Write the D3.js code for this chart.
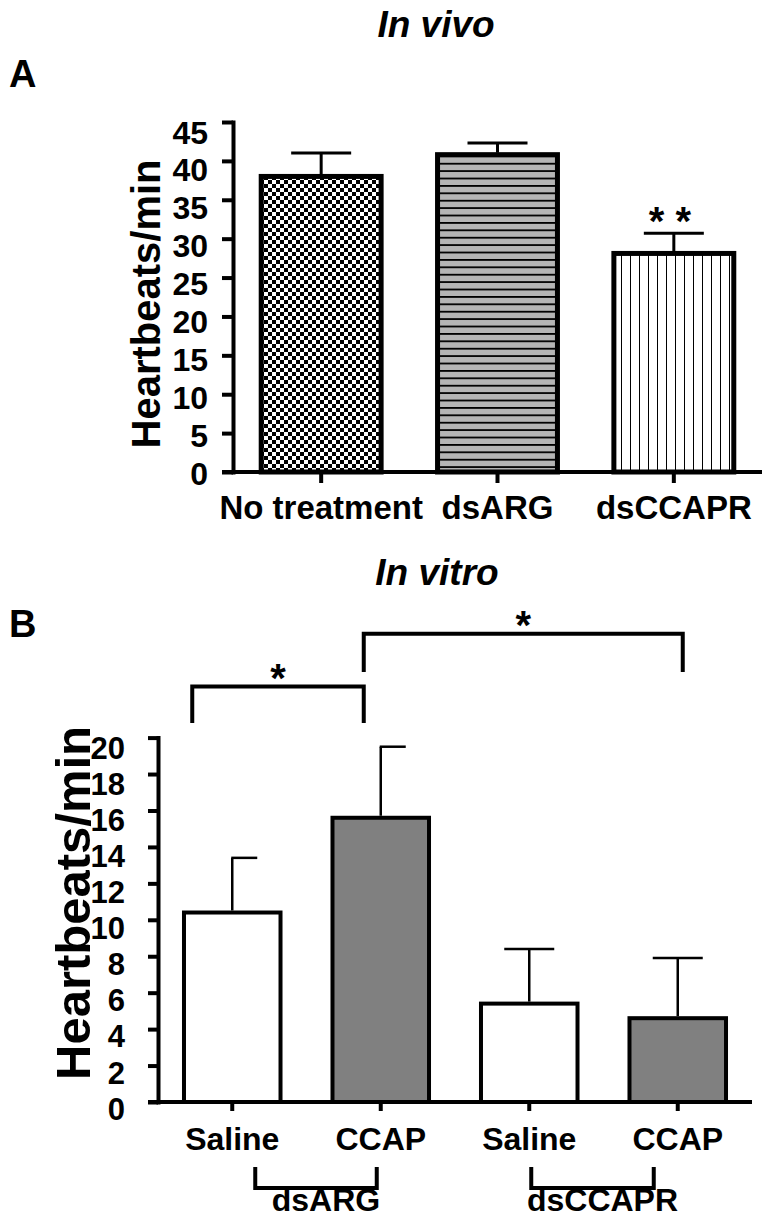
<!DOCTYPE html>
<html>
<head>
<meta charset="utf-8">
<script src="https://cdn.jsdelivr.net/npm/d3@7"></script>
<style>
  body { margin: 0; background: #fff; }
  text { font-family: "Liberation Sans", Arial, sans-serif; font-weight: bold; fill: #000; }
</style>
</head>
<body>
<script>
// ---- data, panel A (in vivo)
var vivoGroups = ["No treatment", "dsARG", "dsCCAPR"];
var vivoMeans = [38.0, 40.8, 28.1];
var vivoErrors = [3.0, 1.5, 2.6];
var vivoTicks = [0, 5, 10, 15, 20, 25, 30, 35, 40, 45];

// ---- data, panel B (in vitro)
var vitroKeys = ["dsARG-Saline", "dsARG-CCAP", "dsCCAPR-Saline", "dsCCAPR-CCAP"];
var vitroLabels = ["Saline", "CCAP", "Saline", "CCAP"];
var vitroMeans = [10.4, 15.6, 5.4, 4.6];
var vitroErrors = [3.0, 3.9, 3.0, 3.3];
var vitroTicks = [0, 2, 4, 6, 8, 10, 12, 14, 16, 18, 20];
var vitroTreatments = ["dsARG", "dsCCAPR"];

var svg = d3.select("body").append("svg")
    .attr("width", 771)
    .attr("height", 1230);

// fill patterns for panel A
var defs = svg.append("defs");

var checker = defs.append("pattern").attr("id", "checker")
    .attr("patternUnits", "userSpaceOnUse").attr("width", 8).attr("height", 8);
checker.append("rect").attr("width", 8).attr("height", 8).attr("fill", "#fff");
checker.append("rect").attr("width", 4).attr("height", 4).attr("fill", "#000");
checker.append("rect").attr("x", 4).attr("y", 4).attr("width", 4).attr("height", 4).attr("fill", "#000");

var hlines = defs.append("pattern").attr("id", "hlines")
    .attr("patternUnits", "userSpaceOnUse").attr("width", 8).attr("height", 7.4);
hlines.append("rect").attr("width", 8).attr("height", 7.4).attr("fill", "#b5b5b5");
hlines.append("rect").attr("width", 8).attr("height", 1.8).attr("fill", "#000");

var vlines = defs.append("pattern").attr("id", "vlines")
    .attr("patternUnits", "userSpaceOnUse").attr("width", 9).attr("height", 9)
    .attr("x", 613);
vlines.append("rect").attr("width", 9).attr("height", 9).attr("fill", "#fff");
vlines.append("rect").attr("x", 8).attr("width", 1.8).attr("height", 9).attr("fill", "#000");

var vivoFills = ["url(#checker)", "url(#hlines)", "url(#vlines)"];
var vitroFills = ["#fff", "#808080", "#fff", "#808080"];
var vitroCaps = ["right", "right", "both", "both"];

function styleAxis(g, size) {
    g.attr("font-family", null).attr("font-size", null);
    g.selectAll("line").attr("stroke", "#000").attr("stroke-width", 4);
    g.selectAll(".domain").attr("stroke", "#000").attr("stroke-width", 4).attr("stroke-linecap", "square");
    g.selectAll("text").style("font-size", size + "px");
}

// ================= Panel A =================
svg.append("text").attr("x", 436).attr("y", 37).attr("text-anchor", "middle")
    .style("font-size", "37px").style("font-style", "italic").text("In vivo");
svg.append("text").attr("x", 9).attr("y", 87).style("font-size", "38px").text("A");

var yA = d3.scaleLinear().domain([0, 45]).range([472, 122]);
var yALabel = d3.scaleLinear().domain([0, 45]).range([472.5, 131.5]);
var xA = d3.scaleBand().domain(vivoGroups).range([233, 762])
    .paddingInner(0.32).paddingOuter(0.16);

var barsA = svg.append("g");
barsA.selectAll("rect")
    .data(vivoGroups)
    .enter().append("rect")
    .attr("x", d => xA(d))
    .attr("y", (d, i) => yA(vivoMeans[i]))
    .attr("width", xA.bandwidth())
    .attr("height", (d, i) => yA(0) - yA(vivoMeans[i]))
    .attr("fill", (d, i) => vivoFills[i])
    .attr("stroke", "#000")
    .attr("stroke-width", 5);

var errA = svg.append("g").attr("stroke", "#000").attr("stroke-width", 3);
vivoGroups.forEach(function (d, i) {
    var cx = xA(d) + xA.bandwidth() / 2;
    errA.append("line").attr("x1", cx).attr("x2", cx)
        .attr("y1", yA(vivoMeans[i]) - 2).attr("y2", yA(vivoMeans[i] + vivoErrors[i]));
    errA.append("line").attr("x1", cx - 30).attr("x2", cx + 30)
        .attr("y1", yA(vivoMeans[i] + vivoErrors[i])).attr("y2", yA(vivoMeans[i] + vivoErrors[i]));
});

// significance stars over dsCCAPR
svg.append("text")
    .attr("x", xA("dsCCAPR") + xA.bandwidth() / 2 - 4)
    .attr("y", yA(vivoMeans[2] + vivoErrors[2]) + 2)
    .attr("text-anchor", "middle")
    .style("font-size", "40px")
    .text("* *");

var gAy = svg.append("g").attr("transform", "translate(233,0)")
    .call(d3.axisLeft(yA).tickValues(vivoTicks).tickSize(11).tickSizeOuter(0).tickPadding(14));
styleAxis(gAy, 32);
gAy.selectAll(".tick text").attr("y", d => yALabel(d) - yA(d)).attr("dy", "0.36em");

var gAx = svg.append("g").attr("transform", "translate(0,472)")
    .call(d3.axisBottom(xA).tickSize(11).tickSizeOuter(0));
styleAxis(gAx, 33);
gAx.select(".domain").remove();
gAx.append("line").attr("x1", 222).attr("x2", 762).attr("y1", 0).attr("y2", 0)
    .attr("stroke", "#000").attr("stroke-width", 4);
gAx.selectAll(".tick text").attr("y", 47).attr("dy", 0);

svg.append("text")
    .attr("transform", "translate(160,304) rotate(-90)")
    .attr("text-anchor", "middle")
    .style("font-size", "40px")
    .text("Heartbeats/min");

// ================= Panel B =================
svg.append("text").attr("x", 437).attr("y", 585).attr("text-anchor", "middle")
    .style("font-size", "37px").style("font-style", "italic").text("In vitro");
svg.append("text").attr("x", 9).attr("y", 637).style("font-size", "38px").text("B");

var yB = d3.scaleLinear().domain([0, 20]).range([1102, 737.6]);
var yBLabel = d3.scaleLinear().domain([0, 20]).range([1108, 747]);
var xB = d3.scaleBand().domain(vitroKeys).range([158, 752])
    .paddingInner(0.35).paddingOuter(0.175);
var cB = d => xB(d) + xB.bandwidth() / 2;

svg.append("g").selectAll("rect")
    .data(vitroKeys)
    .enter().append("rect")
    .attr("x", d => xB(d))
    .attr("y", (d, i) => yB(vitroMeans[i]))
    .attr("width", xB.bandwidth())
    .attr("height", (d, i) => yB(0) - yB(vitroMeans[i]))
    .attr("fill", (d, i) => vitroFills[i])
    .attr("stroke", "#000")
    .attr("stroke-width", 4);

var errB = svg.append("g").attr("stroke", "#000").attr("stroke-width", 2.5);
vitroKeys.forEach(function (d, i) {
    var cx = cB(d), top = yB(vitroMeans[i] + vitroErrors[i]);
    errB.append("line").attr("x1", cx).attr("x2", cx)
        .attr("y1", yB(vitroMeans[i]) - 2).attr("y2", top);
    errB.append("line")
        .attr("x1", vitroCaps[i] == "both" ? cx - 25 : cx - 1).attr("x2", cx + 25)
        .attr("y1", top).attr("y2", top);
});

// significance brackets
var sig = [
    { from: vitroKeys[0], to: vitroKeys[1], dx0: -40, dx1: -17, top: 22.8, leg: 20.8 },
    { from: vitroKeys[1], to: vitroKeys[3], dx0: -17, dx1: 5, top: 25.7, leg: 23.6 }
];
var sigG = svg.append("g");
sig.forEach(function (s) {
    var x0 = cB(s.from) + s.dx0, x1 = cB(s.to) + s.dx1;
    sigG.append("path")
        .attr("d", "M" + x0 + "," + yB(s.leg) + "V" + yB(s.top) + "H" + x1 + "V" + yB(s.leg))
        .attr("fill", "none").attr("stroke", "#000").attr("stroke-width", 4);
    sigG.append("text")
        .attr("x", (x0 + x1) / 2)
        .attr("y", yB(s.top) + 5)
        .attr("text-anchor", "middle")
        .style("font-size", "40px")
        .text("*");
});

var gBy = svg.append("g").attr("transform", "translate(158,0)")
    .call(d3.axisLeft(yB).tickValues(vitroTicks).tickSize(10).tickSizeOuter(0).tickPadding(23));
styleAxis(gBy, 31);
gBy.selectAll(".tick text").attr("y", d => yBLabel(d) - yB(d)).attr("dy", "0.36em");

var gBx = svg.append("g").attr("transform", "translate(0,1102)")
    .call(d3.axisBottom(xB).tickSize(9).tickSizeOuter(0).tickFormat((d, i) => vitroLabels[i]));
styleAxis(gBx, 32);
gBx.select(".domain").remove();
gBx.append("line").attr("x1", 148).attr("x2", 752).attr("y1", 0).attr("y2", 0)
    .attr("stroke", "#000").attr("stroke-width", 4);
gBx.selectAll(".tick text").attr("y", 48).attr("dy", 0);

// treatment brackets under the categories
var treat = [
    { name: vitroTreatments[0], from: vitroKeys[0], to: vitroKeys[1], dx0: 23, dx1: -4 },
    { name: vitroTreatments[1], from: vitroKeys[2], to: vitroKeys[3], dx0: 2, dx1: -24 }
];
var treatG = svg.append("g");
treat.forEach(function (t) {
    var x0 = cB(t.from) + t.dx0, x1 = cB(t.to) + t.dx1;
    treatG.append("path")
        .attr("d", "M" + x0 + ",1167V1188H" + x1 + "V1167")
        .attr("fill", "none").attr("stroke", "#000").attr("stroke-width", 4);
    treatG.append("text")
        .attr("x", (x0 + x1) / 2 + 10)
        .attr("y", 1211)
        .attr("text-anchor", "middle")
        .style("font-size", "32px")
        .text(t.name);
});

svg.append("text")
    .attr("transform", "translate(90,903) rotate(-90)")
    .attr("text-anchor", "middle")
    .style("font-size", "49px")
    .text("Heartbeats/min");
</script>
</body>
</html>
